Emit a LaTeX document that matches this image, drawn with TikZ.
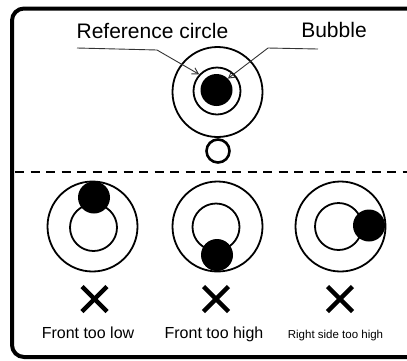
\documentclass[tikz,border=0pt]{standalone}
\usepackage{fontspec}
\setmainfont{Liberation Sans}
\usetikzlibrary{arrows.meta}

\begin{document}
\begin{tikzpicture}[x=1pt,y=-1pt]
    \tikzstyle{every node}=[inner sep=0pt]
    \tikzstyle{outer}=[draw,circle,line width=1.8pt,minimum size=90pt]
    \tikzstyle{ring}=[draw,circle,line width=1.8pt,minimum size=47pt]
    \tikzstyle{bubble}=[fill,circle,minimum size=32pt]
    \tikzstyle{leader}=[line width=0.9pt,black!80,-{Straight Barb[length=6pt,width=7pt]}]
    \tikzstyle{cross}=[line width=4.5pt]
    \tikzstyle{title}=[anchor=base,font=\fontsize{21}{24}\selectfont]
    \tikzstyle{caption}=[anchor=base,font=\fontsize{16}{18}\selectfont]

    \useasboundingbox (0,0) rectangle (407,360);
    \clip (0,0) rectangle (407,360);

    % The frame, cut open at the right
    \draw[line width=4pt,rounded corners=12pt]
        (412,8.5) -- (12,8.5) -- (12,357) -- (412,357);

    % The level bubble as it should sit
    \node[outer] (outer) at (217.5,92) {};
    \node[ring] (ring) at (217,91) {};
    \node[bubble] (bubble) at (216.5,90) {};
    \node[draw,circle,line width=2.6pt,minimum size=23pt] (dot) at (218,151) {};

    % Labels with their leaders
    \node[title] (reflabel) at (152.5,38.5) {Reference circle};
    \node[title] (bublabel) at (334,37) {Bubble};
    \coordinate (refstart) at (77,48);
    \coordinate (refbend) at (157,50);
    \coordinate (bubstart) at (318,49);
    \coordinate (bubbend) at (268,48);
    \draw[leader] (refstart) -- (refbend) -- (ring.137);
    \draw[leader] (bubstart) -- (bubbend) -- (bubble.45);

    % Dashed separator
    \draw[line width=2.4pt,dash pattern=on 9pt off 6.5pt] (15,172) -- (407,172);

    % Front too low
    \node[outer] (outerlow) at (92.5,226.5) {};
    \node[ring] (ringlow) at (93.5,227.5) {};
    \node[bubble] (bubblelow) at (94,197.5) {};
    \draw[cross] (94.5,299) ++(-12.5,-12.5) -- ++(25,25);
    \draw[cross] (94.5,299) ++(12.5,-12.5) -- ++(-25,25);
    \node[caption] (low) at (88,338) {Front too low};

    % Front too high
    \node[outer] (outerhigh) at (217.5,226.5) {};
    \node[ring] (ringhigh) at (216,227) {};
    \node[bubble] (bubblehigh) at (217,255) {};
    \draw[cross] (216,299) ++(-12.5,-12.5) -- ++(25,25);
    \draw[cross] (216,299) ++(12.5,-12.5) -- ++(-25,25);
    \node[caption] (high) at (214,338) {Front too high};

    % Right side too high
    \node[outer] (outerright) at (340.5,226.5) {};
    \node[ring] (ringright) at (338.5,226.5) {};
    \node[bubble] (bubbleright) at (369,225.5) {};
    \draw[cross] (340,299) ++(-12.5,-12.5) -- ++(25,25);
    \draw[cross] (340,299) ++(12.5,-12.5) -- ++(-25,25);
    \node[caption,font=\fontsize{11.5}{14}\selectfont] (right) at (335.5,338) {Right side too high};

\end{tikzpicture}
\end{document}
